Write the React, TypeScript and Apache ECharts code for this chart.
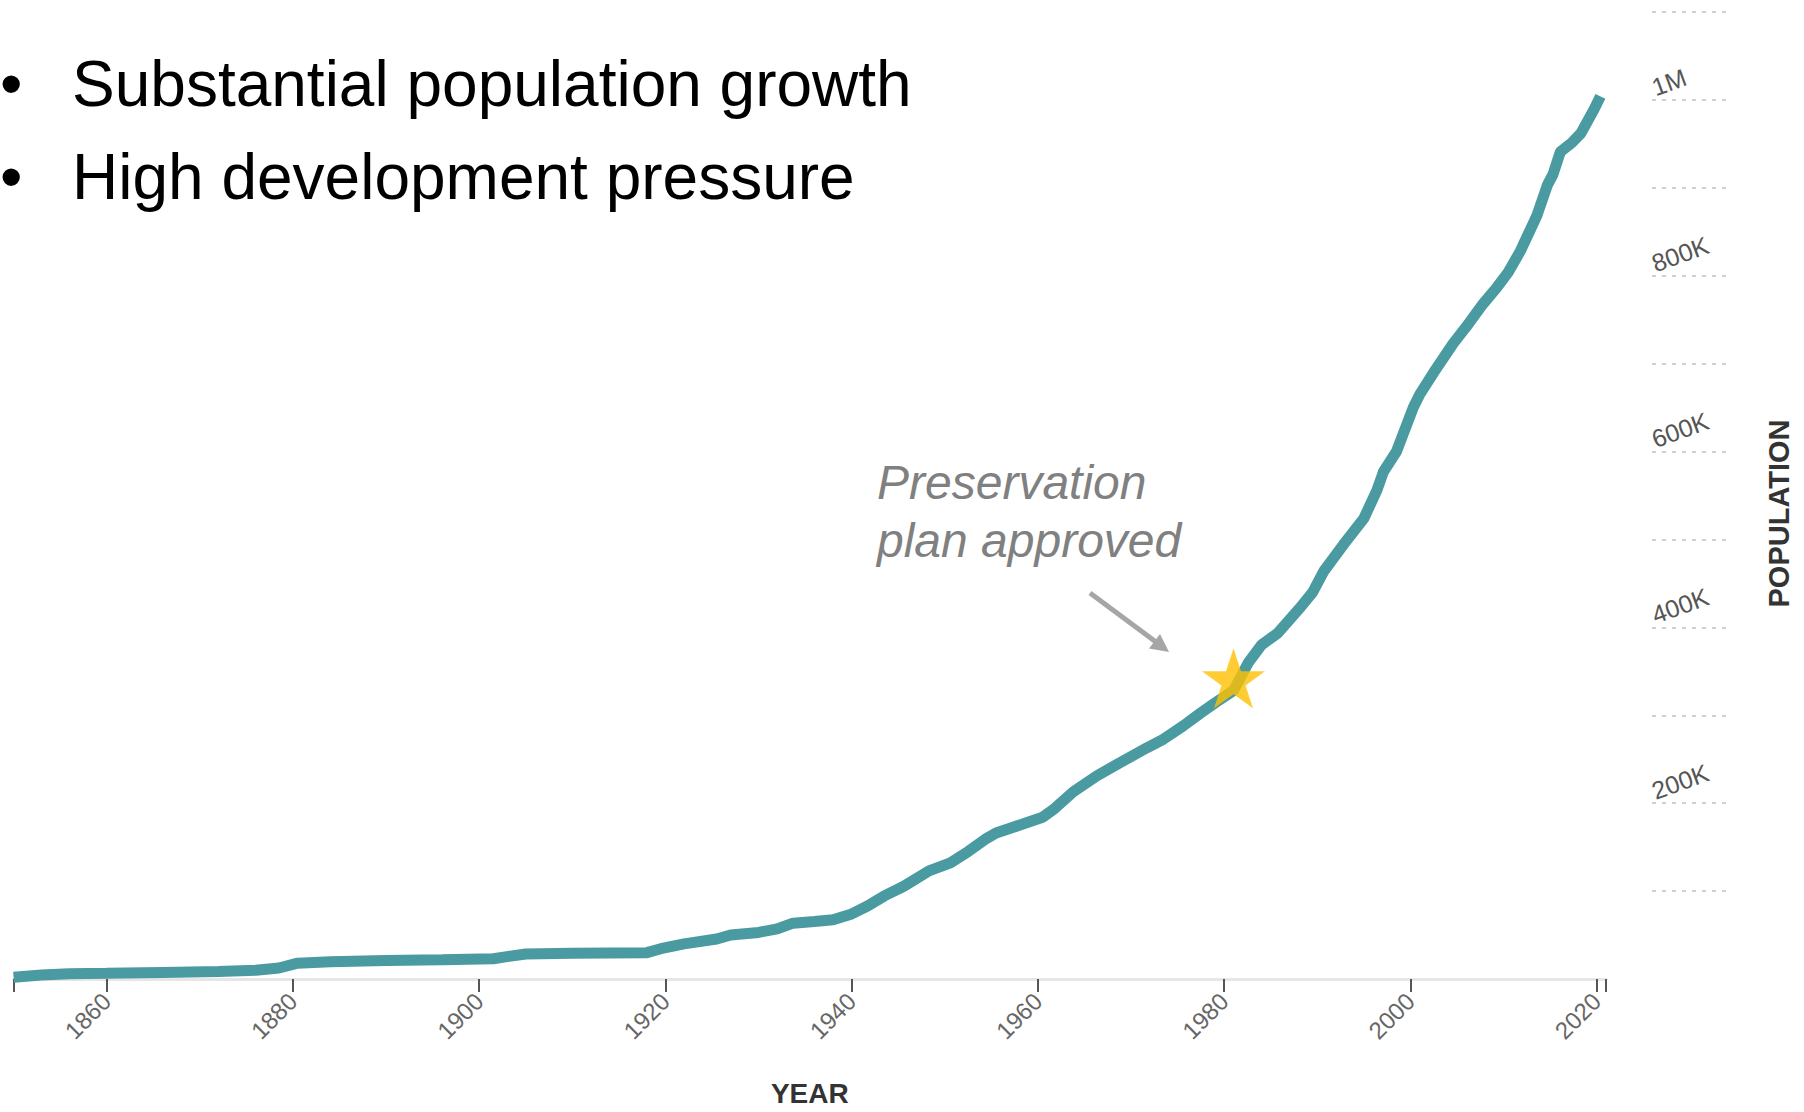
import React, { useEffect, useRef } from 'react';
import * as echarts from 'echarts';

// ---- data ----
const years = [
  1850, 1853, 1856, 1860, 1866, 1872, 1876, 1878.5, 1880.5, 1884, 1890, 1896, 1901.5, 1903, 1905,
  1910, 1918, 1919.5, 1922, 1925.5, 1927, 1930, 1932, 1933.7, 1936, 1938, 1940, 1941.7, 1943.5,
  1945.6, 1948.3, 1950.6, 1952.5, 1954.5, 1955.5, 1958.3, 1960.5, 1961.8, 1963.8, 1966.3, 1968.8,
  1971.7, 1973.5, 1975.6, 1977.4, 1979, 1981, 1982.6, 1984, 1985.7, 1988.2, 1989.5, 1990.7, 1992.8,
  1995, 1996.4, 1997.1, 1998.5, 2000.3, 2001, 2002.5, 2004.6, 2006, 2007.8, 2009.3, 2010.5, 2011.8,
  2013.6, 2014.7, 2015.3, 2016.1, 2017.3, 2018.3, 2019.7, 2020.4,
];
const populationK = [
  2, 4.5, 6, 6.5, 7.5, 8.5, 10, 12.5, 18, 19.5, 21, 22, 23, 25.5, 28.5,
  29.2, 30, 34.5, 40, 45.5, 50, 53, 57, 63.5, 65.5, 67.5, 74, 83, 94.5,
  105.5, 123, 132, 145, 160, 166, 176, 184, 194, 213, 231, 246,
  263, 273, 288, 302, 314, 328, 360, 380, 393, 423, 440, 464, 494,
  524, 556, 577, 600, 650, 665, 690, 723, 742, 768, 787, 804, 828,
  869, 903, 915, 941, 951, 962, 989, 1004,
];
const milestoneYear = [1981];
const milestonePop = [342000];

const xTickYears = [1850, 1860, 1880, 1900, 1920, 1940, 1960, 1980, 2000, 2020, 2021];
const xLabelYears = [1860, 1880, 1900, 1920, 1940, 1960, 1980, 2000, 2020];
const yTickValues = [100000, 200000, 300000, 400000, 500000, 600000, 700000, 800000, 900000, 1000000, 1100000];
const yLabelValues = [200000, 400000, 600000, 800000, 1000000];

const bulletLines = ['Substantial population growth', 'High development pressure'];
const annotationLines = ['Preservation', 'plan approved'];

const STAR =
  'path://M50 0 L61.23 34.55 L97.55 34.55 L68.17 55.9 L79.39 90.45 L50 69.1 L20.61 90.45 L31.83 55.9 L2.45 34.55 L38.77 34.55 Z';

const FONT = 'Liberation Sans, Arial, sans-serif';

export default function App() {
  const ref = useRef<HTMLDivElement>(null);

  useEffect(() => {
    document.body.style.margin = '0';
    if (!ref.current) return;
    const chart = echarts.init(ref.current, undefined, { renderer: 'svg' });

    const lineData = years.map((y, i) => [y, populationK[i] * 1000]);
    const starData = milestoneYear.map((y, i) => [y, milestonePop[i]]);

    const bulletGraphics: any[] = [];
    bulletLines.forEach((t, i) => {
      const cy = 84 + i * 93;
      bulletGraphics.push({
        type: 'text', x: 0, y: cy,
        style: { text: '\u2022', font: `64px ${FONT}`, fill: '#000', verticalAlign: 'middle', align: 'left' },
      });
      bulletGraphics.push({
        type: 'text', x: 72, y: cy,
        style: { text: t, font: `64px ${FONT}`, fill: '#000', verticalAlign: 'middle', align: 'left' },
      });
    });

    const annGraphics = annotationLines.map((t, i) => ({
      type: 'text', x: 877, y: 482 + i * 58,
      style: { text: t, font: `italic 48px ${FONT}`, fill: '#808080', verticalAlign: 'middle', align: 'left' },
    }));

    const option: any = {
      animation: false,
      backgroundColor: '#ffffff',
      grid: { left: 13.6, right: 198, top: 12, bottom: 123, containLabel: false },
      xAxis: {
        type: 'value',
        min: 1850,
        max: 2021,
        axisLine: { show: true, onZero: false, lineStyle: { color: '#e6e6e6', width: 3 } },
        axisTick: { show: true, length: 13, customValues: xTickYears, lineStyle: { color: '#555555', width: 2 } },
        axisLabel: {
          customValues: xLabelYears,
          formatter: (v: number) => String(v),
          rotate: 45,
          margin: 18,
          fontSize: 24,
          color: '#666666',
          fontFamily: FONT,
        },
        splitLine: { show: false },
        name: 'YEAR',
        nameLocation: 'middle',
        nameGap: 100,
        nameTextStyle: { fontSize: 28, fontWeight: 'bold', color: '#333333', fontFamily: FONT },
      },
      yAxis: {
        type: 'value',
        position: 'right',
        offset: 46,
        min: 0,
        max: 1100000,
        axisLine: { show: false },
        axisTick: {
          show: true,
          length: 77,
          customValues: yTickValues,
          lineStyle: { color: '#cfcfcf', width: 2, type: [4, 6] },
        },
        axisLabel: {
          customValues: yLabelValues,
          formatter: (v: number) => (v >= 1000000 ? v / 1000000 + 'M' : v / 1000 + 'K'),
          rotate: 20,
          align: 'left',
          verticalAlign: 'bottom',
          margin: 5,
          fontSize: 25,
          color: '#555555',
          fontFamily: FONT,
        },
        splitLine: { show: false },
        name: 'POPULATION',
        nameLocation: 'middle',
        nameRotate: 90,
        nameGap: 112,
        nameTextStyle: { fontSize: 29, fontWeight: 'bold', color: '#333333', fontFamily: FONT, padding: [0, 36, 0, 0] },
      },
      series: [
        {
          type: 'line',
          data: lineData,
          symbol: 'none',
          smooth: false,
          lineStyle: { color: '#4a9aa1', width: 11 },
          z: 2,
        },
        {
          type: 'scatter',
          data: starData,
          symbol: STAR,
          symbolSize: [63, 60],
          itemStyle: { color: '#FFC000' },
          z: 3,
        },
      ],
      graphic: [
        ...bulletGraphics,
        ...annGraphics,
        {
          type: 'line',
          shape: { x1: 1090, y1: 593, x2: 1156, y2: 642 },
          style: { stroke: '#a6a6a6', lineWidth: 5 },
        },
        {
          type: 'polygon',
          shape: { points: [[1169, 652], [1149, 648.5], [1160, 634]] },
          style: { fill: '#a6a6a6' },
        },
      ],
    };

    chart.setOption(option);
    return () => chart.dispose();
  }, []);

  return (
    <div
      ref={ref}
      style={{ position: 'absolute', left: 0, top: 0, width: 1804, height: 1112, background: '#fff' }}
    />
  );
}
